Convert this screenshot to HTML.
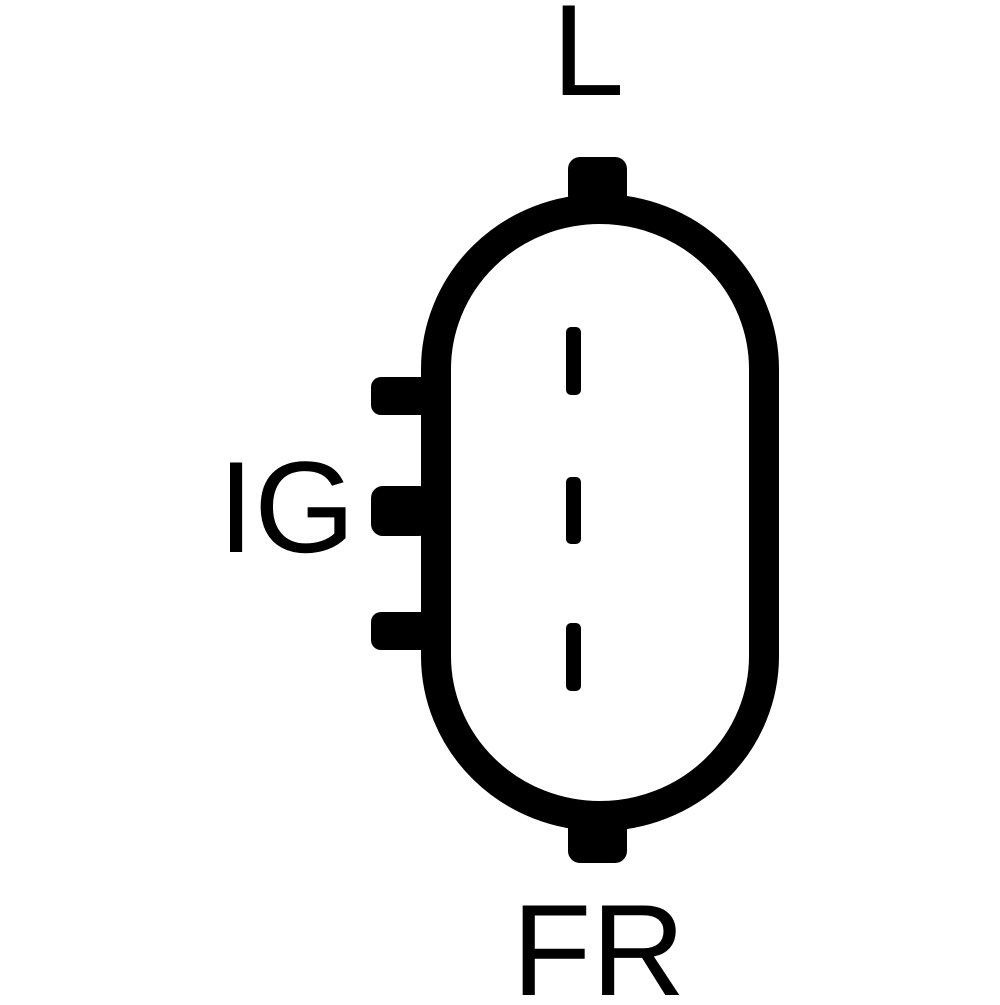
<!DOCTYPE html>
<html><head><style>body{margin:0;background:#fff}</style></head><body>
<svg width="1000" height="1000" viewBox="0 0 1000 1000" xmlns="http://www.w3.org/2000/svg">
<rect width="1000" height="1000" fill="#fff"/>
<rect x="568" y="157" width="59" height="50" rx="12" fill="#000"/>
<rect x="568" y="815" width="59" height="48" rx="12" fill="#000"/>
<rect x="371" y="377" width="60" height="38" rx="10" fill="#000"/>
<rect x="371" y="486" width="60" height="50" rx="12" fill="#000"/>
<rect x="371" y="612" width="60" height="38" rx="10" fill="#000"/>
<rect x="436" y="209" width="328" height="607" rx="164" ry="160" fill="none" stroke="#000" stroke-width="30"/>
<rect x="566" y="327" width="15" height="68" rx="5" fill="#000"/>
<rect x="566" y="477" width="15" height="67" rx="5" fill="#000"/>
<rect x="566" y="623" width="15" height="68" rx="5" fill="#000"/>
<text x="552" y="95" font-family="Liberation Sans, sans-serif" font-size="130" fill="#000">L</text>
<text x="218" y="552" font-family="Liberation Sans, sans-serif" font-size="130" fill="#000">IG</text>
<text x="512" y="995" font-family="Liberation Sans, sans-serif" font-size="130" fill="#000">FR</text>
</svg>
</body></html>
